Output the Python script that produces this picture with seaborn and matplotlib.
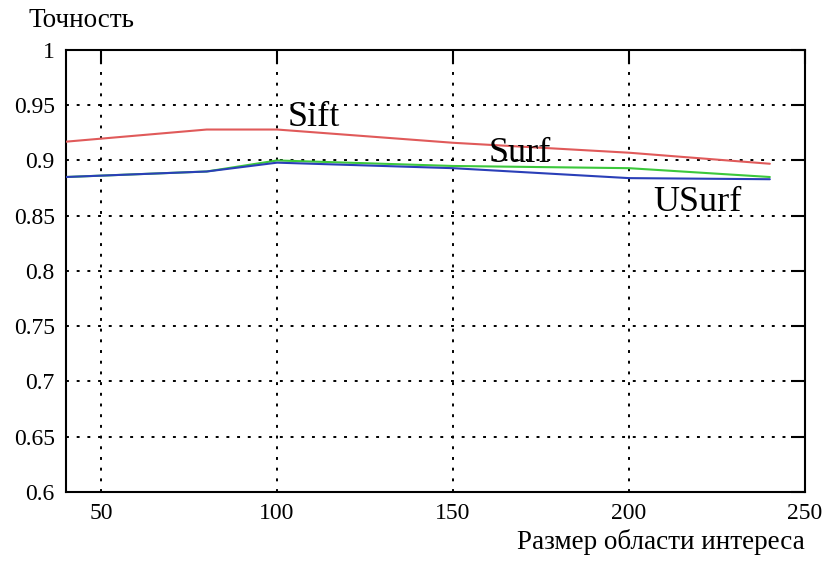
import matplotlib
matplotlib.use("Agg")
import matplotlib.pyplot as plt
import seaborn as sns
import pandas as pd

# data
roi_size = [40, 80, 100, 150, 200, 240]
sift = [0.917, 0.928, 0.928, 0.916, 0.907, 0.897]
surf = [0.885, 0.890, 0.900, 0.895, 0.893, 0.885]
usurf = [0.885, 0.890, 0.898, 0.893, 0.884, 0.883]
series_names = ["Sift", "Surf", "USurf"]
colors = {"Sift": "#e05a5a", "Surf": "#3cc83c", "USurf": "#2a3fb8"}

x_ticks = [50, 100, 150, 200, 250]
y_ticks = [0.6, 0.65, 0.7, 0.75, 0.8, 0.85, 0.9, 0.95, 1.0]
y_tick_labels = ["0.6", "0.65", "0.7", "0.75", "0.8", "0.85", "0.9", "0.95", "1"]

df = pd.DataFrame({
    "x": roi_size * 3,
    "y": sift + surf + usurf,
    "method": [n for n in series_names for _ in roi_size],
})

sns.set_style("white")
plt.rcParams["font.family"] = ["Liberation Serif", "DejaVu Serif"]
plt.rcParams["text.color"] = "black"

fig = plt.figure(figsize=(8.24, 5.62), dpi=100)
ax = fig.add_axes([0.080, 0.125, 0.897, 0.786])

sns.lineplot(data=df, x="x", y="y", hue="method", palette=colors,
             linewidth=1.5, legend=False, ax=ax, zorder=3)

ax.set_xlim(40, 250)
ax.set_ylim(0.6, 1.0)
ax.set_xticks(x_ticks)
ax.set_yticks(y_ticks)
ax.set_yticklabels(y_tick_labels)
ax.grid(True, color="black", linestyle=(0, (1.5, 4)), linewidth=1.4)
ax.tick_params(direction="in", length=10, width=1.5, labelsize=17,
               right=True, top=True, colors="black", pad=8)
for s in ax.spines.values():
    s.set_color("black")
    s.set_linewidth(1.5)

ax.set_xlabel("")
ax.set_ylabel("")
fig.text(0.034, 0.963, "Точность", fontsize=19.5, ha="left", va="center")
fig.text(0.977, 0.035, "Размер области интереса", fontsize=19.5, ha="right", va="center")

# curve labels
ax.text(103, 0.9385, "Sift", fontsize=26, ha="left", va="center")
ax.text(160, 0.9065, "Surf", fontsize=26, ha="left", va="center")
ax.text(207, 0.8615, "USurf", fontsize=26, ha="left", va="center")

fig.savefig("out.png", dpi=100)
